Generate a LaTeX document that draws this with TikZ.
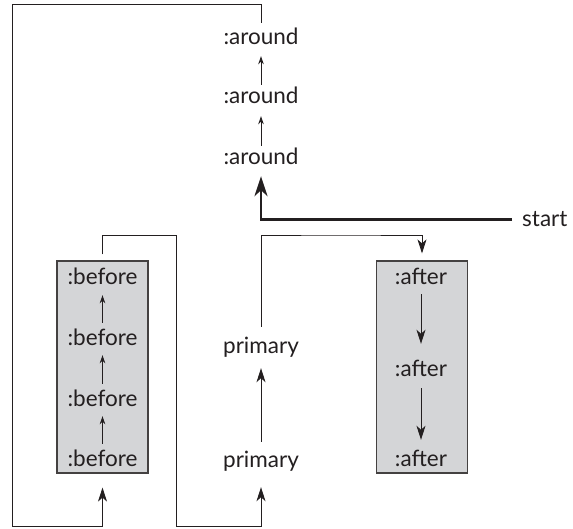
\documentclass[tikz,border=0pt]{standalone}
\usepackage{fontspec}
\setmainfont{Lato}
\usetikzlibrary{arrows.meta}
\definecolor{boxgray}{RGB}{212,213,215}
\definecolor{ink}{RGB}{35,31,32}
\begin{document}
\begin{tikzpicture}[x=1pt,y=-1pt,
  font=\fontsize{22.5}{26}\selectfont,
  lbl/.style={inner sep=0pt, text height=15pt, text depth=0pt, anchor=base, text=ink},
  grpbox/.style={draw=ink!85, fill=boxgray, line width=1.2pt, minimum width=91pt, minimum height=212pt, inner sep=0pt},
  conn/.style={draw=ink, line width=0.9pt},
  sarr/.style={conn, -{Stealth[length=8pt,width=5.5pt,inset=2.5pt]}},
  marr/.style={conn, -{Stealth[length=14pt,width=9pt,inset=4pt]}},
  thickarr/.style={draw=ink, line width=2.6pt, -{Stealth[length=20pt,width=13pt,inset=6pt]}}
]
\useasboundingbox (0,0) rectangle (573,529);

% group boxes
\node[grpbox] (bbox) at (102.5,367) {};
\node[grpbox] (abox) at (422,367) {};

% around column
\node[lbl] (a1) at (261,45) {:around};
\node[lbl] (a2) at (261,104) {:around};
\node[lbl] (a3) at (261,165) {:around};

% before column
\node[lbl] (b1) at (102.5,285) {:before};
\node[lbl] (b2) at (102.5,345) {:before};
\node[lbl] (b3) at (102.5,406) {:before};
\node[lbl] (b4) at (102.5,466) {:before};

% primary column
\node[lbl] (p1) at (261,353) {primary};
\node[lbl] (p2) at (261,467) {primary};

% after column
\node[lbl] (f1) at (421,285) {:after};
\node[lbl] (f2) at (421,376) {:after};
\node[lbl] (f3) at (421,466) {:after};

% start
\node[lbl, anchor=base west] (start) at (522,227) {start};

% corner coordinates
\coordinate (tl) at (12,4);
\coordinate (bl) at (12,526);
\coordinate (m1) at (176,235);
\coordinate (m2) at (176,526);
\coordinate (m3) at (340,235);

% around arrows
\draw[sarr, shorten <=4pt, shorten >=11pt] (a2.north) -- (a1.south);
\draw[sarr, shorten <=4pt, shorten >=12pt] (a3.north) -- (a2.south);

% before arrows
\draw[sarr, shorten <=7pt, shorten >=10pt] (b2.north) -- (b1.south);
\draw[sarr, shorten <=7pt, shorten >=10pt] (b3.north) -- (b2.south);
\draw[sarr, shorten <=7pt, shorten >=10pt] (b4.north) -- (b3.south);

% primary arrow
\draw[marr, shorten <=10pt, shorten >=15pt] (p2.north) -- (p1.south);

% after arrows
\draw[marr, shorten <=9pt, shorten >=17pt] (f1.south) -- (f2.north);
\draw[marr, shorten <=12pt, shorten >=11pt] (f2.south) -- (f3.north);

% start arrow
\draw[thickarr, shorten <=10pt, shorten >=11pt] (start.west) -| (a3.south);

% loops
\draw[marr, shorten <=7pt, shorten >=14pt] (a1.north) |- (tl) -- (bl) -| (bbox.south);
\draw[marr, shorten <=6pt, shorten >=20pt] (bbox.north) |- (m1) -- (m2) -| (p2.south);
\draw[marr, shorten <=11pt, shorten >=7pt] (p1.north) |- (m3) -| (abox.north);
\end{tikzpicture}
\end{document}
